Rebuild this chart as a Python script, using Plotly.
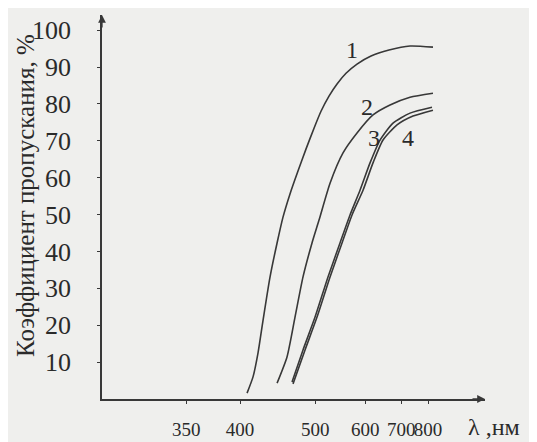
import plotly.graph_objects as go

# ---- data ----
wavelength_1 = [407.6, 414.3, 420.1, 426.1, 434.7, 443.7, 451.6, 461.3, 472.9,
                485.2, 498.0, 509.8, 524.0, 539.1, 557.0, 580.7, 613.9, 662.6,
                730.1, 821.8]
transmission_1 = [1.6, 6.0, 12.5, 21.4, 33.1, 42.3, 49.3, 55.6, 61.8,
                  67.8, 73.4, 78.0, 82.1, 85.4, 88.3, 90.8, 93.0, 94.6,
                  95.7, 95.4]

wavelength_2 = [443.7, 457.1, 468.5, 480.5, 494.7, 506.4, 525.9, 550.9, 580.7,
                618.9, 665.5, 730.1, 821.8]
transmission_2 = [4.3, 11.4, 22.2, 33.1, 42.3, 48.5, 58.5, 66.7, 72.1,
                  77.0, 79.7, 81.8, 82.9]

wavelength_3 = [464.2, 480.5, 499.7, 522.2, 544.9, 565.4, 587.5, 611.4, 637.3,
                674.4, 730.1, 817.4]
transmission_3 = [4.6, 13.3, 22.2, 33.1, 42.3, 49.9, 56.6, 64.0, 70.2,
                  74.8, 77.5, 79.1]

wavelength_4 = [465.6, 483.6, 503.0, 525.9, 548.9, 569.7, 594.5, 618.9, 645.5,
                686.8, 740.9, 821.8]
transmission_4 = [4.1, 13.3, 22.2, 33.1, 42.3, 49.9, 56.6, 64.0, 70.2,
                  74.3, 76.7, 78.3]

curve_names = ["1", "2", "3", "4"]
label_wavelengths = [570, 604, 621, 723]
label_values = [94.6, 79.2, 70.7, 70.7]

x_tick_nm = [350, 400, 500, 600, 700, 800]
y_tick_vals = [10, 20, 30, 40, 50, 60, 70, 80, 90, 100]

y_title = "Коэффициент пропускания, %"
x_unit = "λ ,нм"

# axis drawn linear in 1/λ (1/µm)
def inv(nm):
    return 1000.0 / nm

LINE = "#383838"
TEXT = "#2a2a2a"
BG = "#efefed"
FONT = "Liberation Serif"

fig = go.Figure()
series = [
    (wavelength_1, transmission_1),
    (wavelength_2, transmission_2),
    (wavelength_3, transmission_3),
    (wavelength_4, transmission_4),
]
for name, (wl, tr) in zip(curve_names, series):
    fig.add_trace(go.Scatter(
        x=[inv(w) for w in wl], y=tr, mode="lines", name=name,
        line=dict(color=LINE, width=1.6, shape="spline", smoothing=0.6),
        showlegend=False, hoverinfo="skip",
    ))

for name, wl, v in zip(curve_names, label_wavelengths, label_values):
    fig.add_annotation(x=inv(wl), y=v, text=name, showarrow=False,
                       font=dict(family=FONT, size=24, color=TEXT))

# y title
fig.add_annotation(xref="paper", yref="paper", x=-0.2015, y=0.531,
                   xanchor="center", yanchor="middle",
                   text=y_title, textangle=-90, showarrow=False,
                   font=dict(family=FONT, size=25, color=TEXT))
# x unit label
fig.add_annotation(xref="paper", yref="paper", x=0.950, y=-0.074,
                   xanchor="left", yanchor="middle",
                   text=x_unit, showarrow=False,
                   font=dict(family=FONT, size=24, color=TEXT))
# axis arrowheads
fig.add_annotation(xref="paper", yref="paper", x=1.0, y=0.0, ax=-14, ay=0,
                   text="", showarrow=True, arrowhead=2, arrowsize=1.2,
                   arrowwidth=1.3, arrowcolor=LINE)
fig.add_annotation(xref="paper", yref="paper", x=0.0, y=1.0, ax=0, ay=14,
                   text="", showarrow=True, arrowhead=2, arrowsize=1.2,
                   arrowwidth=1.3, arrowcolor=LINE)

fig.update_xaxes(
    range=[3.418, 0.871],
    tickvals=[inv(t) for t in x_tick_nm],
    ticktext=[str(t) for t in x_tick_nm],
    tickangle=0, automargin=False,
    showgrid=False, zeroline=False,
    showline=True, linecolor=LINE, linewidth=1.5,
    ticks="outside", ticklen=3, tickcolor=LINE,
    ticklabelstandoff=9,
    tickfont=dict(family=FONT, size=19, color=TEXT),
)
fig.update_yaxes(
    range=[0, 104.1],
    tickvals=y_tick_vals,
    ticktext=[str(v) for v in y_tick_vals],
    automargin=False,
    showgrid=False, zeroline=False,
    showline=True, linecolor=LINE, linewidth=1.5,
    ticks="outside", ticklen=3, tickcolor=LINE,
    ticklabelstandoff=21,
    tickfont=dict(family=FONT, size=26, color=TEXT),
)

# the page adds an 8px body margin, so the plot area is offset accordingly
fig.update_layout(
    width=537, height=442,
    margin=dict(l=94, r=60, t=7, b=51),
    paper_bgcolor=BG, plot_bgcolor=BG,
    showlegend=False,
)

fig.write_html("out.html")
